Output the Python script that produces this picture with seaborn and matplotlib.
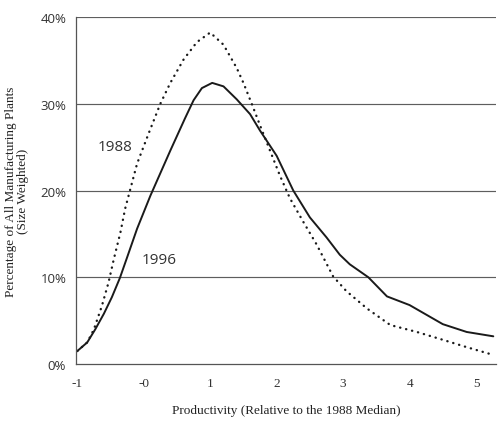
import matplotlib
matplotlib.use("Agg")
import matplotlib.pyplot as plt
import seaborn as sns
import pandas as pd

# 1996 (solid) curve
x_1996 = [-1.0, -0.85, -0.73, -0.60, -0.48, -0.36, -0.25, -0.10, 0.10, 0.40, 0.62, 0.75, 0.875,
          1.03, 1.2, 1.40, 1.6, 1.75, 2.0, 2.25, 2.5, 2.75, 2.95, 3.1, 3.38, 3.66, 4.0, 4.5, 4.86, 5.26]
y_1996 = [1.5, 2.5, 4.0, 5.8, 7.7, 9.9, 12.3, 15.6, 19.4, 24.6, 28.3, 30.4, 31.8,
          32.4, 32.0, 30.5, 28.8, 26.9, 24.0, 20.0, 16.9, 14.6, 12.6, 11.5, 10.0, 7.8, 6.8, 4.6, 3.7, 3.2]

# 1988 (dotted) curve
x_1988 = [-1.0, -0.85, -0.75, -0.63, -0.53, -0.45, -0.35, -0.28, -0.19, -0.10, 0.07, 0.25, 0.40,
          0.60, 0.80, 1.0, 1.2, 1.40, 1.5, 1.63, 1.75, 1.90, 2.05, 2.2, 2.4, 2.6, 2.85, 3.05,
          3.36, 3.71, 4.11, 4.5, 4.86, 5.24]
y_1988 = [1.5, 2.5, 4.0, 6.7, 9.4, 12.1, 15.2, 17.9, 20.5, 23.1, 26.5, 30.0, 32.4,
          35.1, 37.1, 38.2, 36.8, 34.1, 32.4, 29.9, 27.5, 24.6, 21.7, 19.1, 16.4, 13.8, 10.1, 8.4,
          6.4, 4.5, 3.7, 2.8, 1.95, 1.1]

x_ticks = [-1, 0, 1, 2, 3, 4, 5]
x_tick_labels = ["-1", "-0", "1", "2", "3", "4", "5"]
y_ticks = [0, 10, 20, 30, 40]
y_tick_labels = ["0%", "10%", "20%", "30%", "40%"]

df96 = pd.DataFrame({"x": x_1996, "y": y_1996})
df88 = pd.DataFrame({"x": x_1988, "y": y_1988})

sns.set_style("white")
plt.rcParams["font.family"] = ["Open Sans", "DejaVu Sans"]

fig = plt.figure(figsize=(5.03, 4.27), dpi=100)
ax = fig.add_axes([0.151, 0.145, 0.835, 0.813])

for yv in y_ticks[1:]:
    ax.axhline(yv, color="#5e5e5e", lw=0.85, zorder=1)

sns.lineplot(data=df96, x="x", y="y", ax=ax, color="#1a1a1a", lw=1.4, sort=False)
sns.lineplot(data=df88, x="x", y="y", ax=ax, color="#1a1a1a", lw=1.7,
             linestyle=(0, (0.1, 2.5)), dash_capstyle="round", sort=False)

ax.set_xlim(-1.02, 5.3)
ax.set_ylim(0, 40)
ax.set_xticks(x_ticks)
ax.set_xticklabels(x_tick_labels, fontsize=9.5, color="#333333", family="Liberation Serif")
ax.set_yticks(y_ticks)
ax.set_yticklabels(y_tick_labels, fontsize=9.5, color="#333333")
ax.tick_params(axis="x", direction="in", length=3, width=0.8, color="#555555", pad=9)
ax.tick_params(axis="y", direction="out", length=4, width=0.8, color="#555555", pad=3)

for s in ["top", "right"]:
    ax.spines[s].set_visible(False)
for s in ["left", "bottom"]:
    ax.spines[s].set_color("#555555")
    ax.spines[s].set_linewidth(0.9)

ax.text(-0.43, 25.1, "1988", fontsize=11, color="#333333", ha="center", va="center")
ax.text(0.23, 12.1, "1996", fontsize=11, color="#333333", ha="center", va="center")

ax.set_xlabel("Productivity (Relative to the 1988 Median)", fontsize=9.5,
              family="Liberation Serif", color="#222222", labelpad=11)
ax.set_ylabel("Percentage of All Manufacturing Plants\n(Size Weighted)", fontsize=9.5,
              family="Liberation Serif", color="#222222", labelpad=8, linespacing=1.0)

fig.savefig("out.png", dpi=100, facecolor="white")
